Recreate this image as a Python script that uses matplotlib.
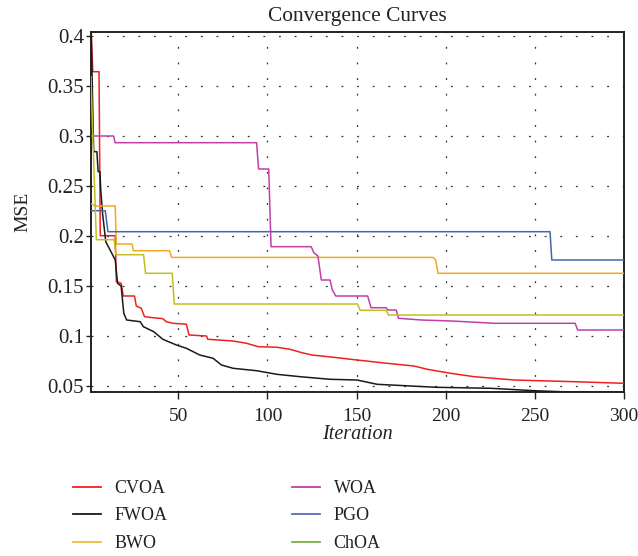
import matplotlib
matplotlib.use("Agg")
import matplotlib.pyplot as plt
from matplotlib.lines import Line2D

# ---- data (iteration, MSE) ----
cvoa_iter = [1, 2, 5.5, 6.2, 14.6, 15.2, 17.9, 19.1, 25.4, 26.4, 29.2, 31, 35.7, 41.3, 43.2, 47, 54.5,
             56, 65.8, 66.5, 80.7, 88.3, 94.8, 105.2, 112.7, 119.3, 124.9, 137.1, 150.2, 167.1, 182.1,
             189.7, 202.8, 215.9, 238.4, 272.2, 300]
cvoa_mse = [0.41, 0.364, 0.364, 0.200, 0.200, 0.154, 0.1524, 0.1397, 0.1397, 0.1297, 0.1274, 0.119,
            0.118, 0.117, 0.114, 0.1124, 0.1115, 0.1007, 0.0997, 0.0964, 0.0947, 0.0924, 0.089, 0.0885,
            0.0864, 0.083, 0.0807, 0.0784, 0.0757, 0.0724, 0.0697, 0.0664, 0.0624, 0.059, 0.0557,
            0.054, 0.0524]

fwoa_iter = [1, 2.5, 4.3, 5, 6, 6.5, 7.5, 9.3, 14.6, 15.9, 17.9, 19.4, 21, 28.6, 30.4, 36.2, 41.3,
             48.9, 54.5, 62, 69.5, 74.2, 80.7, 93.9, 105.2, 118.3, 135.2, 150.2, 161.5, 194.9, 225.3,
             249.7, 272, 300]
fwoa_mse = [0.41, 0.284, 0.284, 0.264, 0.264, 0.245, 0.222, 0.194, 0.1757, 0.1524, 0.1497, 0.1224,
            0.1157, 0.114, 0.109, 0.104, 0.0964, 0.0907, 0.0874, 0.0807, 0.0774, 0.0707, 0.0674,
            0.065, 0.0614, 0.059, 0.0564, 0.0557, 0.0514, 0.0484, 0.0474, 0.045, 0.0435, 0.0433]

bwo_iter = [1, 3.5, 14.6, 15.2, 24, 24.8, 45.1, 46.2, 192.9, 194.3, 195.7, 300]
bwo_mse = [0.232, 0.2297, 0.2297, 0.1917, 0.1917, 0.185, 0.185, 0.1783, 0.1783, 0.1757, 0.1624, 0.1624]

woa_iter = [1, 13.7, 14.5, 93.9, 95, 100.7, 102, 124.5, 126, 128.3, 130.2, 135.1, 136.4, 138.3,
            156.2, 158.1, 166.6, 167.5, 172.2, 173.5, 186.3, 203.2, 227.6, 272.6, 274, 300]
woa_mse = [0.2997, 0.2997, 0.293, 0.293, 0.2667, 0.2667, 0.189, 0.189, 0.183, 0.1797, 0.1557, 0.1557,
           0.1457, 0.1397, 0.1397, 0.128, 0.128, 0.1257, 0.1257, 0.1174, 0.1157, 0.1147, 0.1124,
           0.1124, 0.1057, 0.1057]

pgo_iter = [1, 9, 10.5, 258.5, 259.5, 300]
pgo_mse = [0.225, 0.225, 0.204, 0.204, 0.1757, 0.1757]

choa_iter = [1, 2, 4, 14, 15, 30.5, 31.6, 46.6, 47.7, 150.5, 152, 166.6, 167.9, 300]
choa_mse = [0.359, 0.30, 0.196, 0.196, 0.181, 0.181, 0.1624, 0.1624, 0.1317, 0.1317, 0.1254,
            0.1254, 0.1207, 0.1207]

names = ["CVOA", "FWOA", "BWO", "WOA", "PGO", "ChOA"]
x_ticks = [50, 100, 150, 200, 250, 300]
y_ticks = [0.05, 0.1, 0.15, 0.2, 0.25, 0.3, 0.35, 0.4]
y_tick_labels = ["0.05", "0.1", "0.15", "0.2", "0.25", "0.3", "0.35", "0.4"]

colors = ["#f02020", "#1a1a1a", "#f0a820", "#c040a8", "#4466b0", "#c0c020"]
legend_colors = ["#f02020", "#1a1a1a", "#f0b840", "#c040a8", "#5570b8", "#78b048"]

plt.rcParams["font.family"] = ["Liberation Serif", "DejaVu Serif"]

fig = plt.figure(figsize=(6.38, 5.56), dpi=100)
ax = fig.add_axes([91 / 638, 1 - 392.3 / 556, (624 - 91) / 638, (392.3 - 32.3) / 556])

series = [(cvoa_iter, cvoa_mse), (fwoa_iter, fwoa_mse), (bwo_iter, bwo_mse),
          (woa_iter, woa_mse), (pgo_iter, pgo_mse), (choa_iter, choa_mse)]
order = [5, 4, 3, 2, 0, 1]
for i in order:
    xs, ys = series[i]
    ax.plot(xs, ys, color=colors[i], lw=1.1, zorder=3 + i * 0.01)

ax.set_xlim(1, 300)
ax.set_ylim(0.0434, 0.4034)
ax.set_xticks(x_ticks)
ax.set_yticks(y_ticks)
ax.set_yticklabels(y_tick_labels)
ax.tick_params(axis="x", direction="out", length=5, width=1, labelsize=14, colors="#222222", pad=6.5)
ax.tick_params(axis="y", direction="out", length=3.6, width=1, labelsize=15, colors="#222222", pad=1.5)
ax.grid(True, color="#333333", linestyle=(0, (1.5, 11)), linewidth=0.9)
for s in ax.spines.values():
    s.set_linewidth(1.4)
    s.set_color("#222222")

ax.set_title("Convergence Curves", fontsize=15.4, color="#222222", pad=8)
ax.set_xlabel("Iteration", fontsize=14.5, style="italic", color="#222222", labelpad=0)
ax.set_ylabel("MSE", fontsize=14, color="#222222", labelpad=11.5)

handles = [Line2D([], [], color=c, lw=1.3) for c in legend_colors]
fig.legend(handles, names, loc="upper left", bbox_to_anchor=(73 / 638, 1 - 480 / 556),
           ncol=2, frameon=False, fontsize=13, handlelength=1.55, handletextpad=0.75,
           columnspacing=6.9, labelspacing=0.58, borderpad=0, borderaxespad=0,
           labelcolor="#222222")

fig.savefig("out.png", dpi=100)
